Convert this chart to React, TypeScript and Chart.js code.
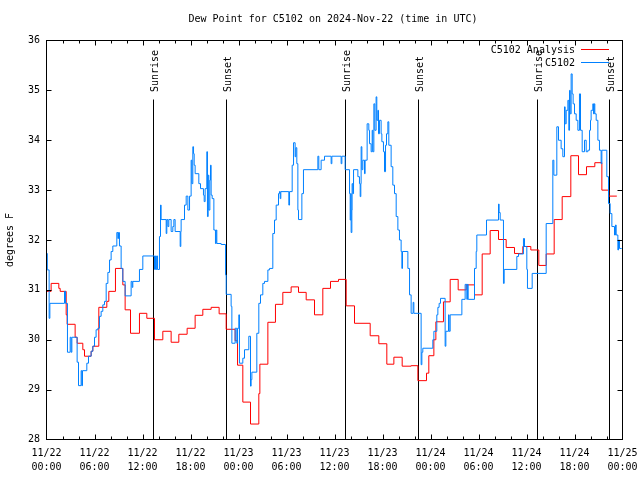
import React, { useEffect, useRef } from "react";
import { Chart, registerables } from "chart.js";

Chart.register(...registerables);

const TITLE = "Dew Point for C5102 on 2024-Nov-22 (time in UTC)";
const Y_TITLE = "degrees F";
const FONT = '"DejaVu Sans Mono", "Liberation Mono", monospace';

const DATE_LABELS = ["11/22", "11/22", "11/22", "11/22", "11/23", "11/23", "11/23", "11/23", "11/24", "11/24", "11/24", "11/24", "11/25"];
const TIME_LABELS = ["00:00", "06:00", "12:00", "18:00", "00:00", "06:00", "12:00", "18:00", "00:00", "06:00", "12:00", "18:00", "00:00"];

const SERIES_NAMES = ["C5102 Analysis", "C5102"];
const SERIES_COLORS = ["#ff0000", "#0080ff"];

// hours since 2024-11-22 00:00 UTC
const SUN_EVENT_HOURS = [13.29, 22.41, 37.29, 46.41, 61.29, 70.29];
const SUN_EVENT_LABELS = ["Sunrise", "Sunset", "Sunrise", "Sunset", "Sunrise", "Sunset"];

// [hour, dew point F] — value holds until next reading
const ANALYSIS: [number, number][] = [
  [0, 30.97], [0.58, 31.13], [1.54, 31.03], [1.71, 30.97], [2.46, 30.5], [2.58, 30.31], [3.58, 30.05], [3.83, 29.93],
  [4.54, 29.8], [4.75, 29.67], [5.58, 29.77], [5.79, 29.87], [6.54, 30.65], [7.54, 30.77], [7.79, 30.97], [8.62, 31.43],
  [9.54, 31.1], [9.83, 30.6], [10.5, 30.13], [11.62, 30.53], [12.54, 30.43], [13.5, 30.0], [14.54, 30.17], [15.58, 29.95],
  [16.54, 30.11], [17.58, 30.23], [18.58, 30.49], [19.54, 30.61], [20.58, 30.65], [21.58, 30.52], [22.46, 30.21], [23.58, 29.98],
  [23.88, 29.49], [24.54, 28.75], [25.5, 28.31], [26.54, 28.92], [26.67, 29.51], [27.67, 30.35], [28.62, 30.71], [29.54, 30.95],
  [30.58, 31.06], [31.5, 30.95], [32.46, 30.8], [33.5, 30.5], [34.54, 31.03], [35.5, 31.17], [36.5, 31.21], [37.46, 30.68],
  [38.5, 30.33], [40.46, 30.08], [41.54, 29.92], [42.54, 29.51], [43.42, 29.65], [44.46, 29.47], [45.58, 29.48], [46.42, 29.18],
  [47.5, 29.33], [47.79, 29.68], [48.42, 30.0], [48.67, 30.36], [49.62, 30.76], [50.46, 31.21], [51.46, 31.0], [52.46, 31.1],
  [53.5, 30.9], [54.46, 31.72], [55.46, 32.19], [56.5, 32.01], [57.46, 31.85], [58.5, 31.73], [59.54, 31.87], [60.54, 31.8],
  [61.54, 31.49], [62.46, 31.72], [63.46, 32.41], [64.46, 32.87], [65.54, 33.69], [66.5, 33.31], [67.5, 33.47], [68.54, 33.55],
  [69.42, 33.0], [70.29, 32.88], [71.29, 32.88],
];

const STATION: [number, number][] = [
  [0, 31.73], [0.1, 31.4], [0.33, 30.43], [0.42, 30.73], [2.25, 30.97], [2.38, 30.73], [2.62, 29.75], [2.96, 30.05],
  [3.08, 29.75], [3.17, 30.05], [3.83, 29.55], [4, 29.08], [4.33, 29.38], [4.42, 29.08], [4.5, 29.38], [5.04, 29.53],
  [5.25, 29.67], [5.58, 29.77], [5.79, 29.87], [6, 30.05], [6.2, 30.2], [6.42, 30.23], [6.62, 30.47], [6.83, 30.57],
  [7.04, 30.7], [7.25, 30.77], [7.46, 31.13], [7.67, 31.35], [7.88, 31.6], [8.08, 31.77], [8.29, 31.88], [8.79, 32.15],
  [8.92, 32.03], [9, 32.15], [9.12, 31.88], [9.33, 31.43], [9.54, 31.17], [9.83, 30.88], [10.58, 31.17], [10.71, 31.05],
  [10.79, 31.17], [11.62, 31.41], [12.04, 31.68], [13.5, 31.41], [13.62, 31.68], [13.71, 31.41], [13.79, 31.68], [13.88, 31.41],
  [14.12, 32.07], [14.25, 32.7], [14.33, 32.41], [14.96, 32.13], [15.04, 32.41], [15.17, 32.27], [15.29, 32.41], [15.58, 32.17],
  [15.79, 32.27], [15.92, 32.41], [16.08, 32.17], [16.71, 31.87], [16.79, 32.17], [16.83, 32.41], [17.25, 32.7], [17.46, 32.88],
  [17.67, 32.6], [17.88, 32.88], [18.08, 33.6], [18.17, 33.13], [18.29, 33.87], [18.38, 33.73], [18.46, 33.5], [18.58, 33.33],
  [19.04, 33.13], [19.25, 33.03], [19.62, 32.9], [19.71, 32.77], [19.83, 33.03], [20.04, 33.77], [20.12, 32.47], [20.21, 33.3],
  [20.29, 32.6], [20.42, 33.2], [20.5, 33.5], [20.58, 32.9], [20.71, 32.83], [20.92, 32.2], [21.12, 31.93], [21.21, 32.2],
  [21.29, 31.93], [21.83, 31.91], [22.38, 31.3], [22.46, 30.91], [23.08, 30.67], [23.17, 29.93], [23.58, 30.23], [23.79, 29.93],
  [23.88, 30.23], [24.04, 30.5], [24.12, 29.53], [24.54, 29.63], [24.75, 29.8], [25.29, 30.07], [25.5, 29.07], [25.58, 29.2],
  [25.67, 29.35], [26.29, 30.13], [26.54, 30.73], [26.75, 30.9], [27.04, 31.13], [27.25, 31.17], [27.67, 31.4], [27.88, 31.43],
  [28.29, 32.13], [28.5, 32.4], [28.71, 32.7], [29, 32.93], [29.12, 32.97], [29.21, 32.83], [29.29, 32.97], [30.29, 32.7],
  [30.38, 32.97], [30.71, 33.5], [30.88, 33.95], [31.08, 33.67], [31.17, 33.85], [31.29, 33.53], [31.42, 32.6], [31.5, 32.41],
  [31.92, 32.93], [32.12, 33.41], [33.92, 33.68], [34.04, 33.41], [34.33, 33.6], [34.75, 33.68], [35.58, 33.53], [35.67, 33.68],
  [36.83, 33.53], [36.92, 33.68], [37.33, 33.41], [37.88, 32.93], [37.96, 32.4], [38.04, 32.93], [38.08, 32.15], [38.17, 32.6],
  [38.2, 33.13], [38.29, 32.93], [38.38, 33.41], [38.92, 33.27], [39.12, 33.13], [39.21, 32.87], [39.29, 33.13], [39.33, 33.87],
  [39.42, 33.41], [39.54, 33.6], [39.75, 33.33], [39.83, 33.6], [40.08, 34.33], [40.29, 34.2], [40.38, 33.93], [40.58, 33.77],
  [40.71, 34.2], [40.79, 33.77], [40.92, 34.73], [41.04, 34.2], [41.2, 34.87], [41.29, 34.4], [41.42, 34.6], [41.5, 34.13],
  [41.62, 34.4], [41.83, 34.13], [41.92, 33.97], [42.12, 33.77], [42.25, 33.37], [42.38, 33.9], [42.5, 34.13], [42.67, 34.37],
  [42.79, 33.9], [43.08, 33.47], [43.29, 33.1], [43.5, 32.93], [43.71, 32.47], [43.92, 32.2], [44.12, 32], [44.33, 31.77],
  [44.42, 31.43], [44.5, 31.77], [45.17, 31.43], [45.38, 30.9], [45.58, 30.53], [45.83, 30.75], [45.92, 30.53], [46.83, 29.5],
  [46.92, 29.75], [47.04, 29.83], [48.29, 30], [48.42, 30.17], [48.79, 30.5], [48.92, 30.65], [49.08, 30.73], [49.25, 30.83],
  [49.83, 29.87], [49.92, 30.17], [50.25, 30.5], [50.33, 30.17], [50.46, 30.5], [51.92, 30.81], [52.33, 31.11], [52.54, 30.81],
  [52.62, 31.11], [52.71, 30.81], [53.5, 31.43], [53.71, 31.77], [53.79, 32.1], [55, 32.4], [56.5, 32.72], [56.58, 32.55],
  [56.71, 32.4], [57.12, 31.13], [57.21, 31.41], [58.79, 31.67], [59, 31.72], [59.62, 32.03], [59.75, 31.87], [60.04, 31.41],
  [60.12, 31.03], [60.71, 31.33], [62.46, 32.33], [63.29, 33.6], [63.42, 33.3], [63.79, 34.27], [64, 34], [64.33, 33.83],
  [64.54, 33.67], [64.75, 34.67], [64.83, 34.33], [64.96, 34.6], [65.17, 34.8], [65.29, 34.2], [65.38, 35], [65.46, 34.53],
  [65.58, 35.33], [65.71, 34.93], [65.83, 34.73], [66, 34.53], [66.21, 34.4], [66.42, 34.2], [66.62, 34.93], [66.75, 34.2],
  [66.96, 33.77], [67.25, 34], [67.46, 33.77], [67.67, 33.8], [67.88, 34.2], [68, 34.4], [68.08, 34.6], [68.29, 34.73],
  [68.38, 34.53], [68.46, 34.73], [68.54, 34.53], [68.71, 34.4], [68.92, 34], [69.12, 33.8], [69.33, 33.53], [69.42, 33.8],
  [70.04, 33.27], [70.25, 32.73], [70.46, 32.53], [70.67, 32.27], [71, 32.1], [71.12, 32.3], [71.21, 32.1], [71.42, 31.8],
  [71.5, 32], [71.62, 31.83], [71.9, 31.83],
];

const X_MIN = 0;
const X_MAX = 72;
const X_STEP = 6;
const X_MINOR_STEP = 2;
const Y_MIN = 28;
const Y_MAX = 36;

const decorPlugin = {
  id: "decor",
  beforeDatasetsDraw(chart: any) {
    const { ctx, chartArea: a, scales } = chart;
    const x = scales.x;
    ctx.save();
    ctx.strokeStyle = "#000";
    ctx.fillStyle = "#000";
    ctx.lineWidth = 1;
    ctx.font = `10px ${FONT}`;
    SUN_EVENT_HOURS.forEach((h, i) => {
      const px = Math.floor(x.getPixelForValue(h) + 0.5) + 0.5;
      ctx.beginPath();
      ctx.moveTo(px, 99.5);
      ctx.lineTo(px, a.bottom);
      ctx.stroke();
      ctx.save();
      ctx.translate(px + 1.5, 92);
      ctx.rotate(-Math.PI / 2);
      ctx.textAlign = "left";
      ctx.textBaseline = "middle";
      ctx.fillText(SUN_EVENT_LABELS[i], 0, 0);
      ctx.restore();
    });
    ctx.restore();
  },
  afterDraw(chart: any) {
    const { ctx, chartArea: a, scales } = chart;
    const x = scales.x;
    const y = scales.y;
    ctx.save();
    ctx.strokeStyle = "#000";
    ctx.fillStyle = "#000";
    ctx.lineWidth = 1;

    // border
    ctx.strokeRect(a.left, a.top, a.right - a.left, a.bottom - a.top);

    // x ticks (major + minor), mirrored on top
    ctx.beginPath();
    for (let t = X_MIN + X_MINOR_STEP; t < X_MAX; t += X_MINOR_STEP) {
      const px = Math.floor(x.getPixelForValue(t) + 0.5) + 0.5;
      const len = t % X_STEP === 0 ? 5 : 3;
      ctx.moveTo(px, a.bottom);
      ctx.lineTo(px, a.bottom - len);
      ctx.moveTo(px, a.top);
      ctx.lineTo(px, a.top + len);
    }
    // y ticks, mirrored on right
    for (let v = Y_MIN + 1; v < Y_MAX; v += 1) {
      const py = Math.floor(y.getPixelForValue(v) + 0.5) + 0.5;
      ctx.moveTo(a.left, py);
      ctx.lineTo(a.left + 5, py);
      ctx.moveTo(a.right, py);
      ctx.lineTo(a.right - 5, py);
    }
    ctx.stroke();

    ctx.font = `10px ${FONT}`;
    // title
    ctx.textAlign = "center";
    ctx.textBaseline = "middle";
    ctx.fillText(TITLE, 333, 19);

    // y title
    ctx.save();
    ctx.translate(10, 240);
    ctx.rotate(-Math.PI / 2);
    ctx.fillText(Y_TITLE, 0, 0);
    ctx.restore();

    // legend
    const rows = [49.5, 62.5];
    SERIES_NAMES.forEach((name, i) => {
      ctx.textAlign = "right";
      ctx.fillStyle = "#000";
      ctx.fillText(name, 575, rows[i] + 0.5);
      ctx.strokeStyle = SERIES_COLORS[i];
      ctx.beginPath();
      ctx.moveTo(581, rows[i]);
      ctx.lineTo(609, rows[i]);
      ctx.stroke();
    });
    ctx.restore();
  },
};

export default function App() {
  const ref = useRef<HTMLCanvasElement>(null);

  useEffect(() => {
    if (!ref.current) return;
    Chart.defaults.color = "#000";
    Chart.defaults.font.family = FONT;
    const chart = new Chart(ref.current, {
      type: "line",
      data: {
        datasets: [
          {
            label: SERIES_NAMES[1],
            data: STATION.map(([h, v]) => ({ x: h, y: v })),
            borderColor: SERIES_COLORS[1],
            borderWidth: 1,
            pointRadius: 0,
            stepped: true,
            fill: false,
          },
          {
            label: SERIES_NAMES[0],
            data: ANALYSIS.map(([h, v]) => ({ x: h, y: v })),
            borderColor: SERIES_COLORS[0],
            borderWidth: 1,
            pointRadius: 0,
            stepped: true,
            fill: false,
          },
        ],
      },
      options: {
        responsive: false,
        animation: false,
        events: [],
        layout: { padding: { left: 0, right: 17.5, top: 40.5, bottom: 0 } },
        plugins: {
          legend: { display: false },
          title: { display: false },
          tooltip: { enabled: false },
        },
        scales: {
          x: {
            type: "linear",
            min: X_MIN,
            max: X_MAX,
            border: { display: false },
            grid: { display: false, drawTicks: false },
            afterFit: (s: any) => {
              s.height = 40.5;
              s.paddingLeft = 0;
              s.paddingRight = 0;
            },
            ticks: {
              stepSize: X_STEP,
              autoSkip: false,
              maxRotation: 0,
              minRotation: 0,
              padding: 6.5,
              color: "#000",
              font: { family: FONT, size: 10, lineHeight: 1.4 },
              callback: (v: any) => {
                const i = Math.round((Number(v) - X_MIN) / X_STEP);
                return [DATE_LABELS[i], TIME_LABELS[i]];
              },
            },
          },
          y: {
            type: "linear",
            min: Y_MIN,
            max: Y_MAX,
            border: { display: false },
            grid: { display: false, drawTicks: false },
            afterFit: (s: any) => {
              s.width = 46.5;
              s.paddingTop = 0;
              s.paddingBottom = 0;
            },
            ticks: {
              stepSize: 1,
              padding: 6.5,
              color: "#000",
              font: { family: FONT, size: 10 },
            },
          },
        },
      },
      plugins: [decorPlugin],
    } as any);
    return () => chart.destroy();
  }, []);

  return (
    <div style={{ position: "absolute", left: 0, top: 0, width: 640, height: 480, background: "#fff" }}>
      <canvas ref={ref} width={640} height={480} style={{ display: "block" }} />
    </div>
  );
}
